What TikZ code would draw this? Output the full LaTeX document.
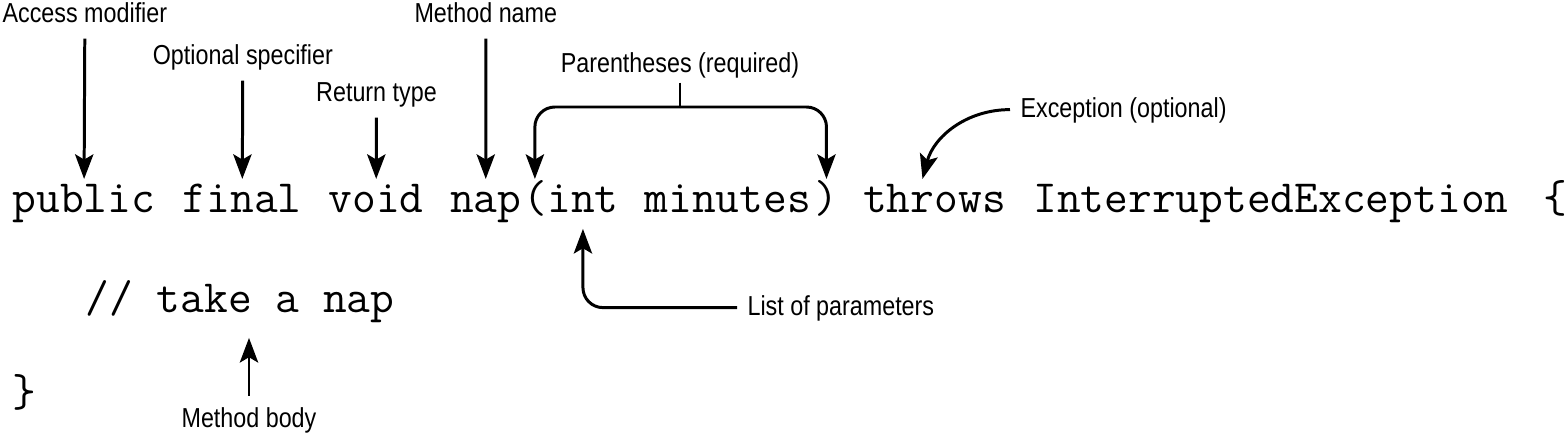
\documentclass[tikz,border=0pt]{standalone}
\usepackage{fontspec}
\newfontfamily\labfont[FakeStretch=0.85]{Liberation Sans}
\usetikzlibrary{arrows.meta}
\tikzset{
  code/.style={font=\ttfamily\fontsize{13.12}{16}\selectfont,inner xsep=0pt,inner ysep=1.7pt,text height=7.5pt,text depth=2.9pt,anchor=base west},
  lab/.style={font=\labfont\fontsize{7.8}{9}\selectfont,inner sep=2.8pt,text height=5.9pt,text depth=1.7pt},
  arr/.style={line width=0.85pt,-{Stealth[length=7pt,width=5.2pt,inset=1.5pt]}},
}
\begin{document}
\begin{tikzpicture}[x=0.01cm,y=-0.01cm]
    \useasboundingbox (0,0) rectangle (1565,433);
    % the code, one node per token
    \node[code] (pub) at (12,212) {public};
    \node[code] (fin) at (12+7*24.3,212) {final};
    \node[code] (vd) at (12+13*24.3,212) {void};
    \node[code] (nap) at (12+18*24.3,212) {nap};
    \node[code] (lpar) at (12+21*24.3,212) {(};
    \node[code] (int) at (12+22*24.3,212) {int};
    \node[code] (mins) at (12+26*24.3,212) {minutes};
    \node[code] (rpar) at (12+33*24.3,212) {)};
    \node[code] (thr) at (12+35*24.3,212) {throws};
    \node[code] (iex) at (12+42*24.3,212) {InterruptedException};
    \node[code] (lbr) at (12+63*24.3,212) {\{};
    \node[code] (body) at (12+3*24.3,312) {// take a nap};
    \node[code] (rbr) at (12,406) {\}};
    % labels above
    \node[lab,anchor=base] (accmod) at (12+3*24.3,22) {Access modifier};
    \node[lab,anchor=base] (optspec) at (12+9.5*24.3,64) {Optional specifier};
    \node[lab,anchor=base] (rettype) at (12+15*24.3,101) {Return type};
    \node[lab,anchor=base] (mname) at (12+19.5*24.3,22) {Method name};
    \draw[arr] (accmod) -- (pub);
    \draw[arr] (optspec) -- (fin);
    \draw[arr] (rettype) -- (vd);
    \draw[arr] (mname) -- (nap);
    % parentheses
    \node[lab,anchor=base,inner ysep=0.04cm] (parlab) at (680,72) {Parentheses (required)};
    \coordinate (bar) at (680,107);
    \draw[line width=0.85pt] (parlab) -- (bar);
    \draw[arr,rounded corners=0.2cm] (bar) -| (lpar);
    \draw[arr,rounded corners=0.2cm] (bar) -| (rpar);
    % exception
    \node[lab,anchor=base west] (exc) at (1010,117) {Exception (optional)};
    \draw[arr] (exc) to[out=180,in=75] ([xshift=-0.12cm]thr.north);
    % labels below
    \node[lab,anchor=base west] (plist) at (737,315) {List of parameters};
    \draw[arr,rounded corners=0.2cm] (plist) -| (int);
    \node[lab,anchor=base] (bodylab) at (249,427) {Method body};
    \draw[arr,shorten >=0.09cm] (bodylab) -- (bodylab |- body.south);
\end{tikzpicture}
\end{document}
